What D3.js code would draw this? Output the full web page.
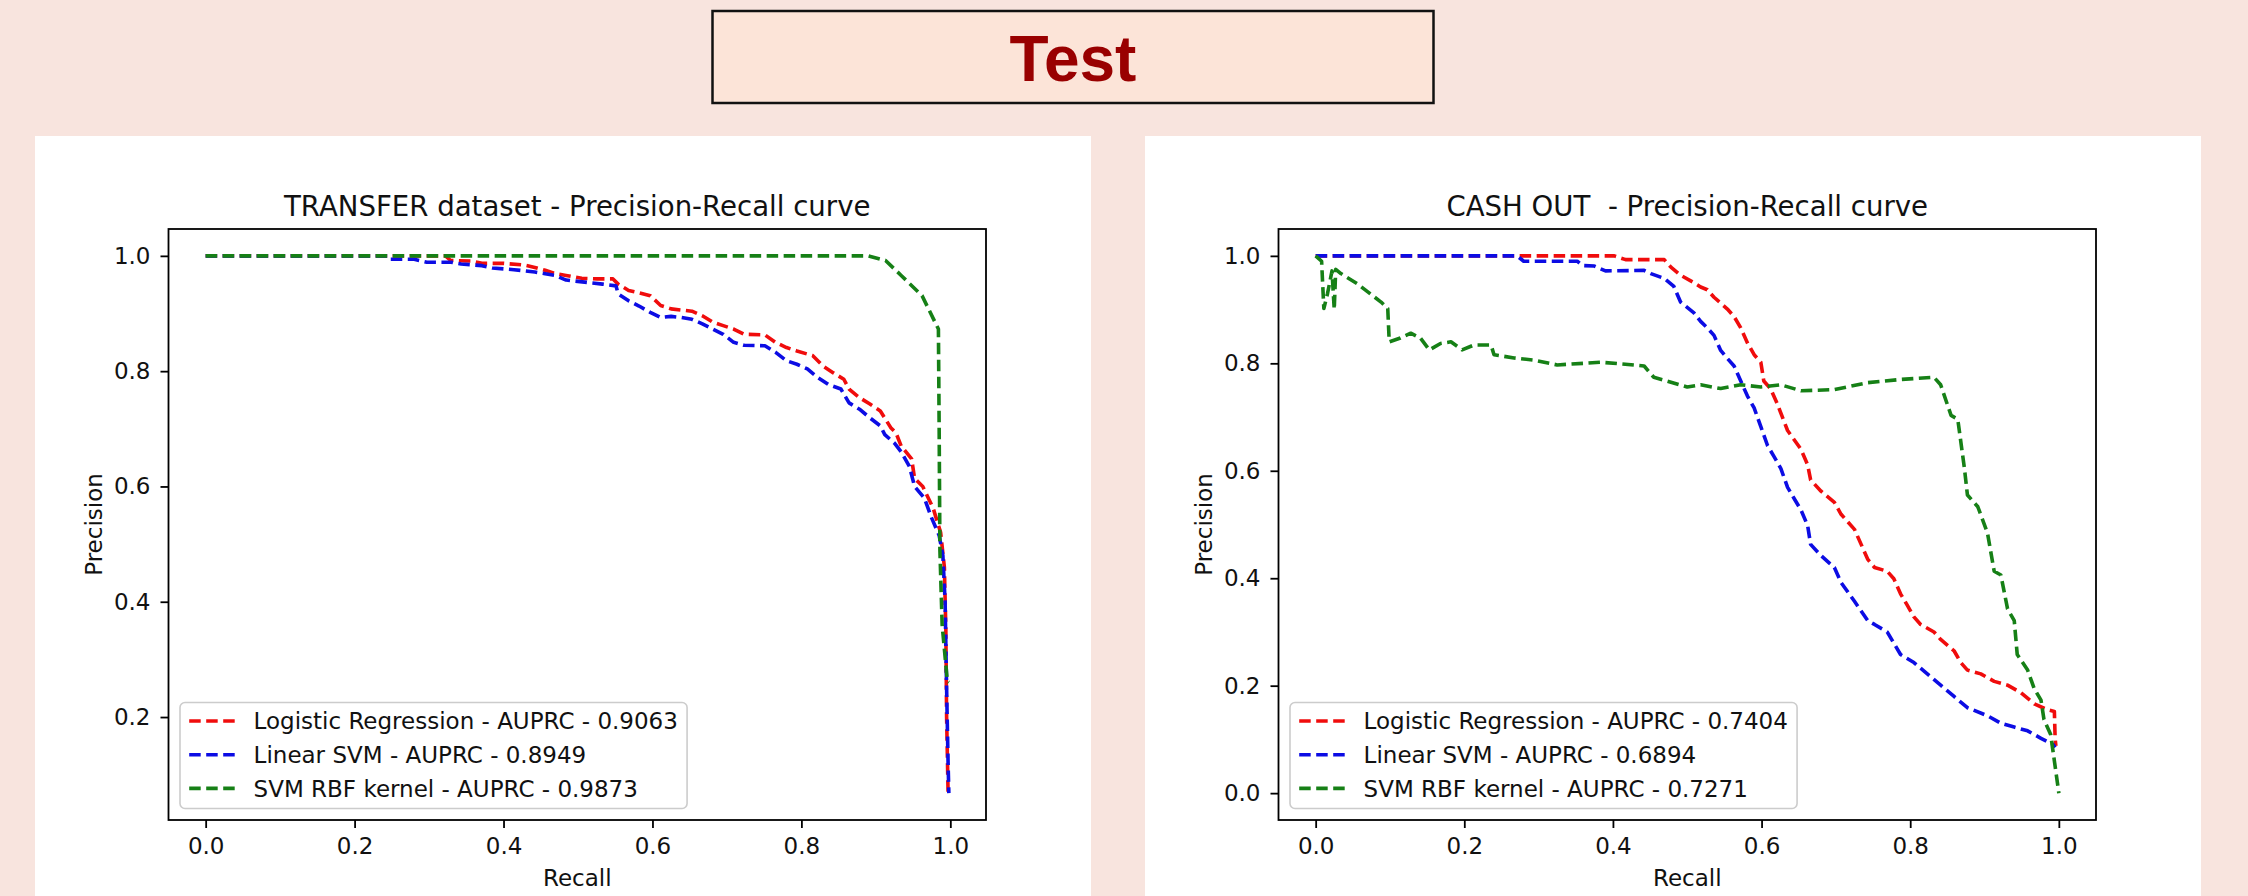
<!DOCTYPE html>
<html>
<head>
<meta charset="utf-8">
<script src="https://cdn.jsdelivr.net/npm/d3@7"></script>
<style>
  html, body { margin: 0; padding: 0; background: #f8e4de; }
  svg { display: block; }
</style>
</head>
<body>
<svg id="chart" width="2248" height="896"></svg>
<script>
// ---- data (recall, precision) ----
const pageTitle = 'Test';

const transferLogReg = [
  [0, 1], [0.322, 1], [0.329, 0.992], [0.357, 0.991], [0.371, 0.987], [0.400, 0.987], [0.428, 0.984],
  [0.442, 0.980], [0.456, 0.975], [0.470, 0.969], [0.484, 0.966], [0.505, 0.961], [0.526, 0.960],
  [0.547, 0.960], [0.554, 0.951], [0.568, 0.940], [0.582, 0.936], [0.597, 0.931], [0.611, 0.914],
  [0.625, 0.908], [0.653, 0.904], [0.667, 0.896], [0.681, 0.885], [0.695, 0.879], [0.709, 0.873],
  [0.723, 0.864], [0.751, 0.863], [0.765, 0.850], [0.780, 0.841], [0.794, 0.835], [0.815, 0.827],
  [0.829, 0.809], [0.843, 0.797], [0.857, 0.786], [0.864, 0.769], [0.878, 0.754], [0.892, 0.743],
  [0.906, 0.731], [0.920, 0.702], [0.927, 0.693], [0.934, 0.670], [0.948, 0.648], [0.952, 0.614],
  [0.963, 0.600], [0.977, 0.562], [0.987, 0.520], [0.992, 0.460], [0.994, 0.350], [0.995, 0.200],
  [0.997, 0.068]
];
const transferLinearSvm = [
  [0, 1], [0.245, 1], [0.248, 0.994], [0.280, 0.994], [0.297, 0.989], [0.329, 0.989], [0.343, 0.986],
  [0.371, 0.983], [0.385, 0.979], [0.414, 0.976], [0.442, 0.972], [0.456, 0.969], [0.470, 0.966],
  [0.484, 0.958], [0.512, 0.954], [0.533, 0.951], [0.551, 0.948], [0.554, 0.934], [0.568, 0.922],
  [0.582, 0.913], [0.597, 0.902], [0.611, 0.893], [0.625, 0.895], [0.639, 0.893], [0.653, 0.890],
  [0.667, 0.882], [0.681, 0.873], [0.695, 0.864], [0.709, 0.850], [0.723, 0.845], [0.751, 0.844],
  [0.765, 0.833], [0.780, 0.818], [0.794, 0.812], [0.808, 0.804], [0.822, 0.789], [0.836, 0.777],
  [0.853, 0.769], [0.864, 0.745], [0.878, 0.734], [0.892, 0.719], [0.906, 0.705], [0.912, 0.690],
  [0.925, 0.675], [0.934, 0.660], [0.945, 0.635], [0.952, 0.600], [0.965, 0.580], [0.975, 0.545],
  [0.985, 0.515], [0.990, 0.480], [0.993, 0.400], [0.995, 0.250], [0.997, 0.120], [0.998, 0.068]
];
const transferRbf = [
  [0, 1], [0.889, 1], [0.913, 0.992], [0.934, 0.966], [0.962, 0.931], [0.984, 0.873], [0.985, 0.700],
  [0.986, 0.490], [0.989, 0.360], [0.996, 0.262], [0.998, 0.260]
];

const cashLogReg = [
  [0, 1], [0.402, 1], [0.417, 0.993], [0.469, 0.993], [0.478, 0.979], [0.491, 0.964], [0.509, 0.950],
  [0.518, 0.942], [0.527, 0.937], [0.536, 0.923], [0.554, 0.901], [0.563, 0.887], [0.572, 0.866],
  [0.581, 0.838], [0.590, 0.816], [0.599, 0.802], [0.603, 0.767], [0.612, 0.753], [0.621, 0.725],
  [0.635, 0.675], [0.653, 0.640], [0.662, 0.611], [0.666, 0.583], [0.680, 0.562], [0.698, 0.541],
  [0.707, 0.519], [0.725, 0.491], [0.734, 0.463], [0.743, 0.435], [0.752, 0.420], [0.769, 0.413],
  [0.778, 0.399], [0.787, 0.371], [0.796, 0.350], [0.805, 0.328], [0.814, 0.314], [0.832, 0.300],
  [0.841, 0.286], [0.859, 0.265], [0.868, 0.243], [0.877, 0.229], [0.895, 0.222], [0.913, 0.208],
  [0.931, 0.201], [0.949, 0.187], [0.967, 0.166], [0.985, 0.155], [0.994, 0.152], [0.995, 0.102],
  [0.996, 0.088]
];
const cashLinearSvm = [
  [0, 1], [0.271, 1], [0.280, 0.990], [0.352, 0.990], [0.359, 0.982], [0.375, 0.981], [0.390, 0.972],
  [0.442, 0.973], [0.451, 0.967], [0.469, 0.958], [0.482, 0.943], [0.491, 0.914], [0.509, 0.894],
  [0.518, 0.878], [0.527, 0.866], [0.536, 0.852], [0.545, 0.824], [0.554, 0.809], [0.563, 0.795],
  [0.572, 0.767], [0.581, 0.739], [0.590, 0.717], [0.599, 0.682], [0.608, 0.647], [0.617, 0.626],
  [0.626, 0.604], [0.635, 0.569], [0.644, 0.548], [0.653, 0.527], [0.662, 0.498], [0.666, 0.463],
  [0.680, 0.442], [0.698, 0.420], [0.707, 0.392], [0.725, 0.357], [0.743, 0.321], [0.752, 0.314],
  [0.769, 0.300], [0.778, 0.279], [0.787, 0.258], [0.805, 0.243], [0.823, 0.222], [0.841, 0.201],
  [0.859, 0.180], [0.877, 0.159], [0.904, 0.144], [0.922, 0.130], [0.940, 0.123], [0.958, 0.116],
  [0.976, 0.102], [0.992, 0.091], [0.995, 0.085]
];
const cashRbf = [
  [0, 1], [0.008, 0.990], [0.011, 0.902], [0.016, 0.930], [0.022, 0.972], [0.025, 0.900], [0.027, 0.975],
  [0.034, 0.967], [0.056, 0.948], [0.088, 0.914], [0.097, 0.902], [0.099, 0.840], [0.114, 0.847],
  [0.128, 0.856], [0.141, 0.847], [0.153, 0.825], [0.168, 0.837], [0.182, 0.840], [0.197, 0.825],
  [0.213, 0.834], [0.236, 0.834], [0.240, 0.816], [0.267, 0.810], [0.294, 0.806], [0.325, 0.797],
  [0.384, 0.802], [0.411, 0.799], [0.442, 0.795], [0.455, 0.774], [0.473, 0.767], [0.500, 0.756],
  [0.518, 0.760], [0.545, 0.753], [0.572, 0.760], [0.599, 0.756], [0.626, 0.760], [0.653, 0.749],
  [0.698, 0.751], [0.743, 0.764], [0.787, 0.770], [0.832, 0.774], [0.841, 0.760], [0.855, 0.703],
  [0.864, 0.696], [0.873, 0.604], [0.877, 0.555], [0.891, 0.533], [0.904, 0.484], [0.913, 0.413],
  [0.922, 0.406], [0.931, 0.343], [0.940, 0.321], [0.944, 0.258], [0.958, 0.229], [0.967, 0.194],
  [0.976, 0.173], [0.980, 0.137], [0.989, 0.109], [0.994, 0.060], [1.000, 0.000]
];

const transferLabels = [
  'Logistic Regression - AUPRC - 0.9063',
  'Linear SVM - AUPRC - 0.8949',
  'SVM RBF kernel - AUPRC - 0.9873'
];
const cashLabels = [
  'Logistic Regression - AUPRC - 0.7404',
  'Linear SVM - AUPRC - 0.6894',
  'SVM RBF kernel - AUPRC - 0.7271'
];
const seriesColors = ['#f00c0c', '#0c0ce4', '#168016'];
const xTicks = [0, 0.2, 0.4, 0.6, 0.8, 1.0];
const transferYTicks = [0.2, 0.4, 0.6, 0.8, 1.0];
const cashYTicks = [0, 0.2, 0.4, 0.6, 0.8, 1.0];

// ---- drawing ----
const W = 2248, H = 896;
const FONT = '"DejaVu Sans", Verdana, sans-serif';
const FS = 23;            // matplotlib 10pt at this scale
const LW = 3.6;           // curve line width
const DASH = '11.5,5.5';  // matplotlib '--'

const svg = d3.select('#chart');
svg.append('rect').attr('width', W).attr('height', H).attr('fill', '#f8e4de');

// heading box
svg.append('rect')
  .attr('x', 712.5).attr('y', 11).attr('width', 721).attr('height', 92)
  .attr('fill', '#fce4d8').attr('stroke', '#111').attr('stroke-width', 2.5);
svg.append('text')
  .attr('x', 1073).attr('y', 81)
  .attr('text-anchor', 'middle')
  .attr('font-family', '"Liberation Sans", Arial, sans-serif')
  .attr('font-weight', 'bold').attr('font-size', 64)
  .attr('fill', '#990000')
  .text(pageTitle);

function padded(ext) {
  const span = ext[1] - ext[0];
  return [ext[0] - span * 0.05, ext[1] + span * 0.05];
}

function drawPanel(panelX, title, seriesList, labels, yTicks, id) {
  // white card behind the figure
  svg.append('rect')
    .attr('x', panelX).attr('y', 136).attr('width', 1056).attr('height', 800)
    .attr('fill', '#ffffff');

  const ax = { left: panelX + 133.5, top: 229, width: 817.5, height: 591 };
  const g = svg.append('g').attr('transform', `translate(${ax.left},${ax.top})`);

  const allPts = seriesList.flat();
  const x = d3.scaleLinear()
    .domain(padded(d3.extent(allPts, d => d[0])))
    .range([0, ax.width]);
  const y = d3.scaleLinear()
    .domain(padded(d3.extent(allPts, d => d[1])))
    .range([ax.height, 0]);

  g.append('clipPath').attr('id', id)
    .append('rect').attr('width', ax.width).attr('height', ax.height);

  const line = d3.line().x(d => x(d[0])).y(d => y(d[1]));
  const curves = g.append('g').attr('clip-path', `url(#${id})`);
  seriesList.forEach((s, i) => {
    curves.append('path')
      .datum(s)
      .attr('d', line)
      .attr('fill', 'none')
      .attr('stroke', seriesColors[i])
      .attr('stroke-width', LW)
      .attr('stroke-dasharray', DASH)
      .attr('stroke-linejoin', 'round');
  });

  // axes
  const xAxis = g.append('g')
    .attr('transform', `translate(0,${ax.height})`)
    .call(d3.axisBottom(x).tickValues(xTicks).tickSize(8).tickPadding(10).tickFormat(d3.format('.1f')));
  const yAxis = g.append('g')
    .call(d3.axisLeft(y).tickValues(yTicks).tickSize(8).tickPadding(10).tickFormat(d3.format('.1f')));
  [xAxis, yAxis].forEach(a => {
    a.select('.domain').remove();
    a.attr('font-family', FONT).attr('font-size', FS);
    a.selectAll('line').attr('stroke', '#000').attr('stroke-width', 1.8);
    a.selectAll('text').attr('fill', '#111');
  });

  // frame
  g.append('rect')
    .attr('width', ax.width).attr('height', ax.height)
    .attr('fill', 'none').attr('stroke', '#000').attr('stroke-width', 1.8);

  // title and axis labels
  g.append('text')
    .attr('x', ax.width / 2).attr('y', -13)
    .attr('text-anchor', 'middle')
    .attr('font-family', FONT).attr('font-size', FS * 1.2)
    .attr('fill', '#111')
    .style('white-space', 'pre')
    .text(title);
  g.append('text')
    .attr('x', ax.width / 2).attr('y', ax.height + 66)
    .attr('text-anchor', 'middle')
    .attr('font-family', FONT).attr('font-size', FS)
    .attr('fill', '#111')
    .text('Recall');
  g.append('text')
    .attr('transform', `translate(-67,${ax.height / 2}) rotate(-90)`)
    .attr('text-anchor', 'middle')
    .attr('font-family', FONT).attr('font-size', FS)
    .attr('fill', '#111')
    .text('Precision');

  // legend, lower left
  const pad = 0.4 * FS, handle = 2 * FS, gap = 0.8 * FS, rowH = 33.7;
  const boxH = 106;
  const lg = g.append('g')
    .attr('transform', `translate(${0.5 * FS},${ax.height - 0.5 * FS - boxH})`);
  const frame = lg.append('rect')
    .attr('height', boxH).attr('rx', 5)
    .attr('fill', '#fff').attr('fill-opacity', 0.8)
    .attr('stroke', '#cccccc').attr('stroke-width', 1.6);
  let maxW = 0;
  labels.forEach((lab, i) => {
    const cy = 18.5 + i * rowH;
    lg.append('line')
      .attr('x1', pad).attr('x2', pad + handle)
      .attr('y1', cy).attr('y2', cy)
      .attr('stroke', seriesColors[i]).attr('stroke-width', LW)
      .attr('stroke-dasharray', DASH);
    const t = lg.append('text')
      .attr('x', pad + handle + gap).attr('y', cy).attr('dy', '0.36em')
      .attr('font-family', FONT).attr('font-size', FS)
      .attr('fill', '#111')
      .text(lab);
    maxW = Math.max(maxW, t.node().getComputedTextLength());
  });
  frame.attr('width', pad + handle + gap + maxW + pad);
}

drawPanel(35, 'TRANSFER dataset - Precision-Recall curve',
  [transferLogReg, transferLinearSvm, transferRbf], transferLabels, transferYTicks, 'clipA');
drawPanel(1145, 'CASH OUT  - Precision-Recall curve',
  [cashLogReg, cashLinearSvm, cashRbf], cashLabels, cashYTicks, 'clipB');
</script>
</body>
</html>
